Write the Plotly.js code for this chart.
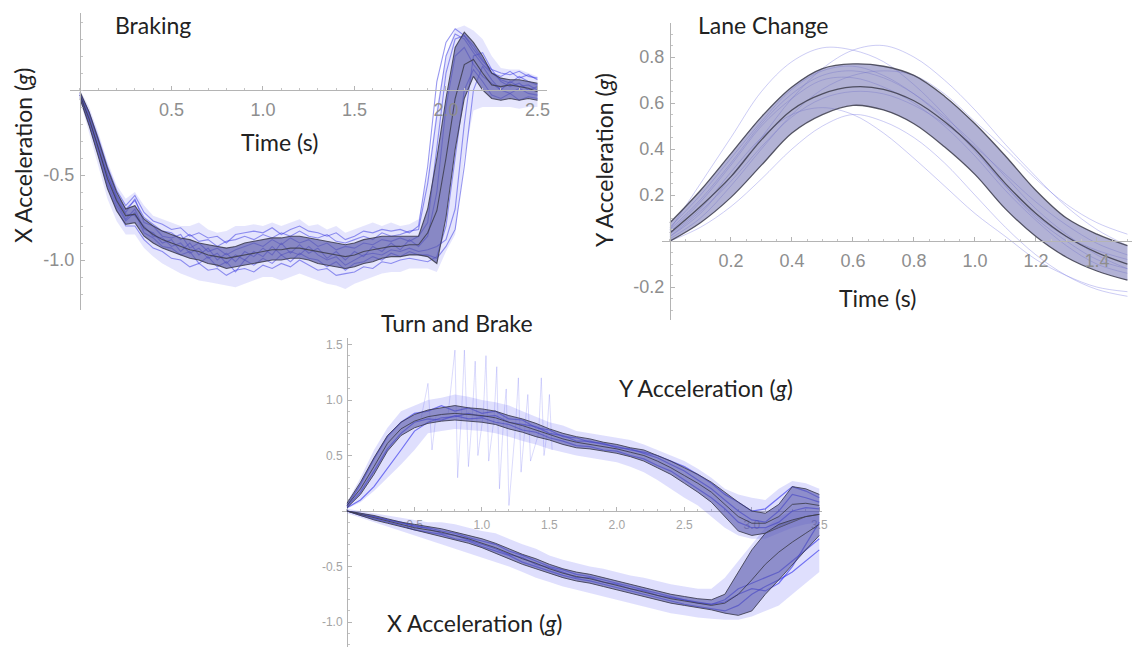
<!DOCTYPE html>
<html><head><meta charset="utf-8">
<script src="https://cdn.plot.ly/plotly-3.0.1.min.js"></script>
<style>html,body{margin:0;padding:0;background:#fff}#chart{width:1132px;height:647px}</style>
</head><body><div id="chart"></div>
<script>
// ---------------- Braking (panel 1) ----------------
const t1 = [0,0.05,0.1,0.15,0.2,0.25,0.3,0.35,0.4,0.45, 0.5,0.55,0.6,0.65,0.7,0.75,0.8,0.85,0.9,0.95,
  1,1.05,1.1,1.15,1.2,1.25,1.3,1.35,1.4,1.45, 1.5,1.55,1.6,1.65,1.7,1.75,1.8,1.85,1.9,1.95,
  2,2.05,2.1,2.15,2.2,2.25,2.3,2.35,2.4,2.45, 2.5];
const brakeMean = [-0.03,-0.17,-0.34,-0.52,-0.65,-0.74,-0.73,-0.81,-0.85,-0.88,
  -0.90,-0.92,-0.94,-0.95,-0.97,-0.98,-0.99,-0.98,-0.97,-0.96,
  -0.95,-0.94,-0.94,-0.93,-0.93,-0.94,-0.95,-0.96,-0.97,-0.98,
  -0.97,-0.95,-0.94,-0.93,-0.92,-0.92,-0.91,-0.91,-0.84,-0.71,
  -0.40,-0.05,0.15,0.18,0.10,0.03,0.02,0.03,0.02,0.01, -0.01];
const brakeUpper = [-0.01,-0.13,-0.29,-0.46,-0.60,-0.70,-0.68,-0.76,-0.80,-0.83,
  -0.85,-0.87,-0.88,-0.90,-0.91,-0.92,-0.93,-0.92,-0.90,-0.89,
  -0.88,-0.87,-0.87,-0.86,-0.86,-0.87,-0.88,-0.89,-0.90,-0.91,
  -0.90,-0.88,-0.87,-0.86,-0.86,-0.86,-0.86,-0.86,-0.70,-0.40,
  -0.05,0.25,0.34,0.28,0.20,0.10,0.07,0.06,0.06,0.05, 0.04];
const brakeLower = [-0.05,-0.21,-0.39,-0.58,-0.71,-0.79,-0.78,-0.86,-0.90,-0.93,
  -0.95,-0.97,-0.99,-1.00,-1.02,-1.03,-1.05,-1.04,-1.03,-1.02,
  -1.01,-1.00,-1.00,-0.99,-0.99,-1.00,-1.02,-1.03,-1.04,-1.05,
  -1.04,-1.02,-1.01,-0.99,-0.98,-0.98,-0.97,-0.97,-0.98,-1.02,
  -0.75,-0.35,-0.05,0.08,0.00,-0.05,-0.06,-0.05,-0.06,-0.05, -0.06];
const brakeCloudHi = [0.0,-0.10,-0.25,-0.42,-0.56,-0.64,-0.60,-0.68,-0.74,-0.76,
  -0.78,-0.80,-0.80,-0.78,-0.82,-0.84,-0.83,-0.80,-0.80,-0.79,
  -0.80,-0.78,-0.80,-0.78,-0.76,-0.80,-0.79,-0.82,-0.80,-0.84,
  -0.82,-0.80,-0.78,-0.80,-0.78,-0.80,-0.79,-0.76,-0.50,-0.10,
  0.20,0.36,0.38,0.35,0.30,0.20,0.13,0.12,0.12,0.10, 0.08];
const brakeCloudLo = [-0.06,-0.25,-0.45,-0.64,-0.77,-0.85,-0.85,-0.93,-0.98,-1.02,
  -1.05,-1.08,-1.10,-1.12,-1.13,-1.14,-1.15,-1.16,-1.14,-1.12,
  -1.10,-1.10,-1.12,-1.10,-1.08,-1.10,-1.12,-1.14,-1.15,-1.17,
  -1.14,-1.12,-1.10,-1.08,-1.07,-1.07,-1.05,-1.05,-1.05,-1.07,
  -0.95,-0.85,-0.40,-0.12,-0.10,-0.10,-0.10,-0.10,-0.11,-0.10, -0.10];
const brakeRunA = [-0.02,-0.14,-0.30,-0.47,-0.62,-0.70,-0.65,-0.75,-0.79,-0.83,
  -0.84,-0.88,-0.85,-0.89,-0.88,-0.92,-0.89,-0.88,-0.86,-0.88,
  -0.85,-0.87,-0.84,-0.86,-0.83,-0.86,-0.87,-0.85,-0.89,-0.90,
  -0.88,-0.86,-0.88,-0.84,-0.86,-0.85,-0.83,-0.82,-0.55,-0.15,
  0.20,0.33,0.30,0.22,0.15,0.10,0.08,0.11,0.07,0.09, 0.06];
const brakeRunB = [-0.04,-0.20,-0.38,-0.57,-0.70,-0.80,-0.80,-0.88,-0.93,-0.95,
  -0.99,-1.00,-1.04,-1.02,-1.06,-1.05,-1.09,-1.06,-1.05,-1.07,
  -1.03,-1.05,-1.02,-1.04,-1.00,-1.03,-1.06,-1.05,-1.09,-1.08,
  -1.07,-1.04,-1.05,-1.01,-1.02,-1.00,-0.99,-1.00,-1.01,-0.98,
  -0.80,-0.40,0.00,0.12,0.05,-0.03,-0.05,-0.02,-0.06,-0.04, -0.05];
const brakeRunC = [-0.03,-0.18,-0.33,-0.53,-0.66,-0.76,-0.70,-0.82,-0.84,-0.90,
  -0.88,-0.95,-0.90,-0.97,-0.93,-1.00,-0.96,-1.01,-0.95,-0.98,
  -0.93,-0.97,-0.90,-0.96,-0.91,-0.96,-0.93,-0.99,-0.95,-1.00,
  -0.95,-0.98,-0.92,-0.95,-0.90,-0.94,-0.88,-0.92,-0.86,-0.60,
  -0.10,0.20,0.25,0.15,0.08,0.04,0.00,0.05,0.02,0.03, 0.00];
const brakeRunD = [-0.03,-0.16,-0.35,-0.50,-0.64,-0.73,-0.74,-0.80,-0.86,-0.87,
  -0.92,-0.90,-0.96,-0.93,-0.99,-0.96,-1.02,-0.97,-1.00,-0.95,
  -0.98,-0.92,-0.97,-0.95,-0.97,-0.92,-0.97,-1.00,-0.98,-1.03,
  -1.00,-0.97,-0.96,-0.97,-0.94,-0.95,-0.93,-0.95,-0.94,-0.92,
  -0.88,-0.70,-0.20,0.20,0.22,0.12,0.05,0.02,0.04,0.00, 0.02];
const brakeRunE = [-0.02,-0.15,-0.31,-0.50,-0.63,-0.72,-0.64,-0.78,-0.80,-0.86,
  -0.87,-0.85,-0.93,-0.90,-0.95,-0.93,-0.97,-0.94,-0.92,-0.90,
  -0.92,-0.88,-0.91,-0.87,-0.90,-0.88,-0.92,-0.90,-0.94,-0.92,
  -0.93,-0.90,-0.91,-0.88,-0.89,-0.87,-0.89,-0.86,-0.78,-0.35,
  0.10,0.30,0.32,0.26,0.18,0.10,0.06,0.04,0.08,0.05, 0.03];
const brakeRunF = [-0.03,-0.19,-0.36,-0.55,-0.68,-0.77,-0.72,-0.84,-0.87,-0.92,
  -0.93,-0.97,-0.95,-1.02,-0.98,-1.04,-1.01,-1.07,-1.00,-1.03,
  -0.99,-1.02,-0.97,-1.01,-0.96,-0.99,-1.00,-1.04,-1.01,-1.06,
  -1.02,-1.01,-0.98,-1.00,-0.96,-0.98,-0.95,-0.97,-0.97,-0.99,
  -0.92,-0.82,-0.45,0.00,0.14,0.06,0.00,-0.02,0.01,-0.02, -0.03];
const brakeRunG = [-0.02,-0.13,-0.28,-0.45,-0.59,-0.68,-0.62,-0.72,-0.77,-0.79,
  -0.82,-0.81,-0.86,-0.84,-0.87,-0.86,-0.90,-0.85,-0.84,-0.83,
  -0.84,-0.81,-0.85,-0.82,-0.80,-0.83,-0.84,-0.86,-0.84,-0.88,
  -0.86,-0.83,-0.84,-0.82,-0.83,-0.82,-0.84,-0.80,-0.45,0.05,
  0.28,0.36,0.32,0.24,0.17,0.12,0.10,0.09,0.11,0.08, 0.07];

// ---------------- Lane Change (panel 2) ----------------
const t2 = [0,0.1,0.2,0.3,0.4,0.5,0.6,0.7,0.8,0.9,1.0,1.1,1.2,1.3,1.4,1.5];
const laneMean  = [0.035,0.15,0.28,0.44,0.57,0.64,0.67,0.66,0.61,0.52,0.40,0.25,0.12,0.02,-0.05,-0.10];
const laneUpper = [0.08,0.22,0.38,0.54,0.67,0.75,0.77,0.76,0.72,0.63,0.51,0.37,0.22,0.10,0.03,-0.02];
const laneLower = [0.0,0.08,0.19,0.33,0.47,0.55,0.59,0.57,0.51,0.41,0.29,0.14,0.02,-0.07,-0.13,-0.17];
const laneRun1 = [0.05,0.25,0.45,0.65,0.78,0.84,0.83,0.78,0.68,0.55,0.40,0.24,0.10,0.0,-0.08,-0.12];
const laneRun2 = [0.02,0.12,0.28,0.45,0.62,0.75,0.83,0.85,0.80,0.70,0.57,0.42,0.28,0.15,0.05,-0.02];
const laneRun3 = [0.0,0.06,0.15,0.27,0.40,0.50,0.55,0.52,0.45,0.34,0.20,0.06,-0.06,-0.15,-0.21,-0.24];
const laneRun4 = [0.03,0.14,0.30,0.45,0.55,0.58,0.55,0.47,0.36,0.24,0.12,0.02,-0.08,-0.15,-0.20,-0.22];
const laneRun5 = [0.01,0.10,0.24,0.40,0.55,0.66,0.72,0.74,0.72,0.64,0.52,0.40,0.27,0.16,0.08,0.03];
const laneRun6 = [0.04,0.17,0.33,0.50,0.62,0.70,0.71,0.67,0.60,0.50,0.37,0.22,0.09,-0.02,-0.10,-0.14];
const laneRun7 = [0.06,0.20,0.36,0.52,0.66,0.74,0.76,0.72,0.64,0.53,0.39,0.24,0.11,0.02,-0.04,-0.08];
const laneRun8 = [0.02,0.13,0.26,0.41,0.54,0.62,0.65,0.64,0.59,0.51,0.41,0.29,0.17,0.07,-0.01,-0.06];
const laneRun9 = [0.05,0.18,0.34,0.51,0.64,0.72,0.74,0.71,0.64,0.54,0.42,0.28,0.14,0.03,-0.06,-0.12];

// ---------------- Turn and Brake (panel 3) ----------------
const t3 = [0,0.1,0.2,0.3,0.4,0.5,0.6,0.7,0.8,0.9, 1.0,1.1,1.2,1.3,1.4,1.5,1.6,1.7,1.8,1.9,
  2.0,2.1,2.2,2.3,2.4,2.5,2.6,2.7,2.8,2.9, 3.0,3.1,3.2,3.3,3.4,3.5];
const turnYMean = [0.05,0.20,0.40,0.61,0.74,0.81,0.85,0.87,0.88,0.87,
  0.86,0.84,0.80,0.77,0.73,0.69,0.65,0.62,0.60,0.58,
  0.56,0.53,0.50,0.45,0.39,0.32,0.25,0.17,0.06,-0.05,
  -0.11,-0.11,-0.05,0.06,0.07,0.05];
const turnYUpper = [0.07,0.26,0.48,0.68,0.80,0.87,0.91,0.93,0.95,0.93,
  0.92,0.90,0.86,0.83,0.79,0.74,0.70,0.67,0.65,0.62,
  0.60,0.57,0.55,0.50,0.45,0.39,0.33,0.26,0.17,0.08,
  0.00,-0.02,0.06,0.22,0.20,0.15];
const turnYLower = [0.03,0.15,0.33,0.54,0.68,0.75,0.79,0.81,0.82,0.81,
  0.80,0.78,0.74,0.71,0.67,0.64,0.60,0.57,0.56,0.54,
  0.52,0.49,0.45,0.39,0.33,0.25,0.17,0.08,-0.05,-0.18,
  -0.22,-0.20,-0.15,-0.10,-0.05,-0.03];
const turnYCloudHi = [0.08,0.30,0.55,0.75,0.90,0.95,1.00,1.02,1.05,1.03,
  1.00,0.98,0.95,0.90,0.85,0.80,0.77,0.72,0.70,0.68,
  0.66,0.64,0.60,0.55,0.50,0.45,0.38,0.30,0.20,0.15,
  0.12,0.10,0.20,0.27,0.25,0.20];
const turnYCloudLo = [0.02,0.08,0.18,0.30,0.42,0.55,0.70,0.72,0.74,0.73,
  0.72,0.70,0.67,0.63,0.60,0.56,0.53,0.50,0.48,0.46,
  0.44,0.40,0.35,0.28,0.20,0.12,0.05,-0.05,-0.15,-0.22,
  -0.25,-0.25,-0.20,-0.15,-0.12,-0.10];
const turnYRunA = [0.05,0.24,0.47,0.67,0.80,0.88,0.90,0.95,0.90,0.93,
  0.88,0.90,0.83,0.82,0.75,0.73,0.67,0.66,0.62,0.61,
  0.57,0.56,0.52,0.48,0.42,0.36,0.28,0.20,0.10,0.00,
  -0.08,-0.10,0.00,0.15,0.12,0.08];
const turnYRunB = [0.04,0.17,0.36,0.56,0.70,0.80,0.83,0.82,0.86,0.83,
  0.84,0.80,0.78,0.73,0.71,0.66,0.63,0.59,0.58,0.55,
  0.54,0.50,0.47,0.41,0.36,0.28,0.20,0.12,0.02,-0.10,
  -0.15,-0.15,-0.10,0.00,0.03,0.02];
const turnYRunC = [0.03,0.10,0.22,0.38,0.55,0.72,0.80,0.84,0.85,0.88,
  0.85,0.86,0.80,0.78,0.76,0.70,0.68,0.63,0.63,0.60,
  0.58,0.55,0.53,0.50,0.45,0.40,0.33,0.25,0.15,0.08,
  0.00,0.02,0.12,0.22,0.18,0.12];
const turnYSpikeT = [0.55,0.6,0.63,0.66, 0.75,0.8,0.82,0.85,0.87,0.9, 0.93,0.95,0.97, 1.01,1.03,1.05,
  1.09,1.11,1.13, 1.16,1.18,1.2, 1.25,1.27,1.29, 1.32,1.34,1.36, 1.42,1.44,1.46, 1.48,1.5,1.52];
const turnYSpikeV = [0.84,1.15,0.55,0.86, 0.88,1.45,0.30,0.90,1.45,0.40, 0.88,1.35,0.50, 0.87,1.40,0.45,
  0.84,1.30,0.20, 0.82,1.10,0.05, 0.78,1.20,0.35, 0.74,1.05,0.45, 0.70,1.20,0.50, 0.68,1.05,0.55];

const turnXMean = [0.0,-0.03,-0.06,-0.09,-0.12,-0.15,-0.17,-0.19,-0.22,-0.25,
  -0.29,-0.33,-0.38,-0.43,-0.47,-0.52,-0.56,-0.59,-0.61,-0.64,
  -0.67,-0.70,-0.73,-0.76,-0.79,-0.81,-0.83,-0.85,-0.83,-0.75,
  -0.62,-0.48,-0.37,-0.28,-0.20,-0.12];
const turnXUpper = [0.0,-0.02,-0.04,-0.07,-0.10,-0.12,-0.14,-0.16,-0.19,-0.22,
  -0.25,-0.29,-0.34,-0.39,-0.43,-0.48,-0.52,-0.55,-0.57,-0.60,
  -0.63,-0.66,-0.69,-0.72,-0.75,-0.77,-0.79,-0.80,-0.75,-0.55,
  -0.35,-0.20,-0.12,-0.08,-0.05,-0.03];
const turnXLower = [0.0,-0.04,-0.08,-0.11,-0.14,-0.17,-0.20,-0.23,-0.26,-0.29,
  -0.33,-0.38,-0.43,-0.48,-0.52,-0.56,-0.60,-0.63,-0.65,-0.68,
  -0.71,-0.74,-0.77,-0.80,-0.83,-0.85,-0.87,-0.89,-0.92,-0.94,
  -0.90,-0.75,-0.62,-0.48,-0.35,-0.22];
const turnXCloudHi = [0.02,0.0,-0.02,-0.04,-0.06,-0.08,-0.10,-0.10,-0.12,-0.15,
  -0.18,-0.20,-0.25,-0.30,-0.34,-0.40,-0.44,-0.47,-0.50,-0.52,
  -0.55,-0.58,-0.60,-0.63,-0.66,-0.68,-0.70,-0.70,-0.60,-0.45,
  -0.30,-0.15,-0.05,0.0,0.0,0.0];
const turnXCloudLo = [-0.02,-0.06,-0.10,-0.14,-0.18,-0.22,-0.26,-0.30,-0.34,-0.38,
  -0.42,-0.46,-0.50,-0.55,-0.60,-0.64,-0.68,-0.71,-0.74,-0.77,
  -0.80,-0.83,-0.86,-0.89,-0.92,-0.94,-0.96,-0.97,-0.98,-0.98,
  -0.95,-0.90,-0.85,-0.75,-0.65,-0.55];
const turnXRunA = [0.0,-0.02,-0.05,-0.08,-0.10,-0.14,-0.15,-0.18,-0.20,-0.24,
  -0.27,-0.30,-0.36,-0.40,-0.45,-0.50,-0.53,-0.57,-0.59,-0.62,
  -0.65,-0.68,-0.71,-0.74,-0.77,-0.80,-0.82,-0.84,-0.80,-0.70,
  -0.65,-0.60,-0.55,-0.45,-0.35,-0.25];
const turnXRunB = [0.0,-0.04,-0.07,-0.10,-0.13,-0.17,-0.19,-0.21,-0.25,-0.27,
  -0.32,-0.36,-0.40,-0.46,-0.50,-0.54,-0.58,-0.61,-0.63,-0.66,
  -0.69,-0.72,-0.75,-0.78,-0.81,-0.84,-0.86,-0.88,-0.90,-0.85,
  -0.75,-0.68,-0.62,-0.55,-0.45,-0.35];
const turnXRunC = [0.0,-0.03,-0.05,-0.08,-0.11,-0.13,-0.16,-0.20,-0.22,-0.26,
  -0.30,-0.34,-0.39,-0.42,-0.48,-0.51,-0.55,-0.60,-0.60,-0.64,
  -0.66,-0.70,-0.72,-0.76,-0.78,-0.80,-0.83,-0.84,-0.82,-0.75,
  -0.70,-0.72,-0.65,-0.50,-0.30,-0.10];

// tick labels
const brakeXTicks = [0.5,1.0,1.5,2.0,2.5];
const brakeYTicks = [-0.5,-1.0];
const laneXTicks = [0.2,0.4,0.6,0.8,1.0,1.2,1.4];
const laneYTicks = [-0.2,0.2,0.4,0.6,0.8];
const turnXTicks = [0.5,1.0,1.5,2.0,2.5,3.0,3.5];
const turnYTicks = [-1.0,-0.5,0.5,1.0,1.5];

// ---------------- drawing ----------------
const W = 1132, H = 647;
const traces = [];
function band(x, lo, hi, xa, ya, fill, lineColor, lw, shape) {
  const s = shape || 'linear';
  traces.push({x:x, y:lo, xaxis:xa, yaxis:ya, mode:'lines', line:{color:lineColor, width:lw, shape:s}, hoverinfo:'skip'});
  traces.push({x:x, y:hi, xaxis:xa, yaxis:ya, mode:'lines', fill:'tonexty', fillcolor:fill, line:{color:lineColor, width:lw, shape:s}, hoverinfo:'skip'});
}
function line(x, y, xa, ya, color, w, shape) {
  traces.push({x:x, y:y, xaxis:xa, yaxis:ya, mode:'lines', line:{color:color, width:w, shape:shape||'linear'}, hoverinfo:'skip'});
}
const gray = 'rgba(60,60,75,0.85)';
const bandFill = 'rgba(110,110,140,0.40)';
const noLine = 'rgba(0,0,0,0)';

// panel 1
band(t1, brakeCloudLo, brakeCloudHi, 'x', 'y', 'rgba(95,95,240,0.16)', noLine, 0);
[brakeRunA, brakeRunB, brakeRunC, brakeRunD, brakeRunE, brakeRunF, brakeRunG].forEach(r => line(t1, r, 'x', 'y', 'rgba(50,50,225,0.5)', 1.1));
band(t1, brakeLower, brakeUpper, 'x', 'y', 'rgba(50,50,210,0.42)', noLine, 0);
band(t1, brakeLower, brakeUpper, 'x', 'y', bandFill, gray, 1.1);
line(t1, brakeMean, 'x', 'y', gray, 1.1);

// panel 2
[laneRun1, laneRun2, laneRun3, laneRun4, laneRun5, laneRun6, laneRun7, laneRun8, laneRun9].forEach(r => line(t2, r, 'x2', 'y2', 'rgba(120,120,225,0.38)', 1, 'spline'));
band(t2, laneLower, laneUpper, 'x2', 'y2', 'rgba(110,110,200,0.28)', noLine, 0, 'spline');
band(t2, laneLower, laneUpper, 'x2', 'y2', 'rgba(115,115,165,0.36)', gray, 1.3, 'spline');
line(t2, laneMean, 'x2', 'y2', gray, 1.3, 'spline');

// panel 3
band(t3, turnYCloudLo, turnYCloudHi, 'x3', 'y3', 'rgba(80,80,245,0.18)', noLine, 0);
band(t3, turnXCloudLo, turnXCloudHi, 'x3', 'y3', 'rgba(80,80,245,0.18)', noLine, 0);
line(turnYSpikeT, turnYSpikeV, 'x3', 'y3', 'rgba(70,70,240,0.28)', 0.7);
[turnYRunA, turnYRunB, turnYRunC, turnXRunA, turnXRunB, turnXRunC].forEach(r => line(t3, r, 'x3', 'y3', 'rgba(40,40,235,0.6)', 1.2));
band(t3, turnYLower, turnYUpper, 'x3', 'y3', 'rgba(40,40,230,0.32)', noLine, 0);
band(t3, turnXLower, turnXUpper, 'x3', 'y3', 'rgba(40,40,230,0.32)', noLine, 0);
band(t3, turnYLower, turnYUpper, 'x3', 'y3', bandFill, gray, 1.0);
line(t3, turnYMean, 'x3', 'y3', gray, 1.0);
band(t3, turnXLower, turnXUpper, 'x3', 'y3', bandFill, gray, 1.0);
line(t3, turnXMean, 'x3', 'y3', gray, 1.0);

// axes placement (pixel boxes -> paper domains, axes cross at the origin)
function makeAxes(px, py, xr, yr, xt, yt, fsize, fcolor, minorX, minorY, layer) {
  const xd = [px[0]/W, px[1]/W];
  const yd = [1 - py[1]/H, 1 - py[0]/H];
  const xpos = yd[0] + (0 - yr[0])/(yr[1]-yr[0])*(yd[1]-yd[0]);
  const ypos = xd[0] + (0 - xr[0])/(xr[1]-xr[0])*(xd[1]-xd[0]);
  const common = {showgrid:false, zeroline:false, showline:true, linecolor:'#b4b4b4', linewidth:1,
    ticks:'inside', ticklen:4, tickcolor:'#b4b4b4', tickwidth:1, anchor:'free', layer:layer,
    tickfont:{family:'Liberation Sans, Arial, sans-serif', size:fsize, color:fcolor}, fixedrange:true};
  const xa = Object.assign({}, common, {domain:xd, range:xr, position:xpos, tickmode:'array', tickvals:xt,
    ticktext:xt.map(v => v.toFixed(1)), ticklabelstandoff:3,
    minor:{tickmode:'linear', tick0:0, dtick:minorX, ticks:'inside', ticklen:2, tickcolor:'#c4c4c4'}});
  const ya = Object.assign({}, common, {domain:yd, range:yr, position:ypos, tickmode:'array', tickvals:yt,
    ticktext:yt.map(v => (v < 0 ? '-' : '') + Math.abs(v).toFixed(1)), ticklabelstandoff:2,
    minor:{tickmode:'linear', tick0:0, dtick:minorY, ticks:'inside', ticklen:2, tickcolor:'#c4c4c4'}});
  return [xa, ya];
}
const [xa1, ya1] = makeAxes([70,547], [13,310], [-0.0546, 2.552], [-1.294, 0.453], brakeXTicks, brakeYTicks, 18, '#8e8e8e', 0.1, 0.1, 'above traces');
const [xa2, ya2] = makeAxes([662,1132], [23,320], [-0.026, 1.515], [-0.343, 0.948], laneXTicks, laneYTicks, 18, '#8e8e8e', 0.05, 0.05, 'above traces');
const [xa3, ya3] = makeAxes([342,822], [338,647], [-0.037, 3.52], [-1.225, 1.559], turnXTicks, turnYTicks, 12, '#a4a4a4', 0.1, 0.1, 'below traces');

function P(px, py) { return {x: px/W, y: 1 - py/H}; }
const titleFont = {family:'Lato, Open Sans, sans-serif', size:23, color:'#222'};
function ann(text, px, py, opts) {
  const p = P(px, py);
  return Object.assign({text:text, x:p.x, y:p.y, xref:'paper', yref:'paper', showarrow:false,
    xanchor:'center', yanchor:'middle', font:titleFont}, opts||{});
}
const annotations = [
  ann('Braking', 153, 25),
  ann('Time (s)', 279, 142),
  ann('X Acceleration (<i>g</i>)', 23, 156, {textangle:-90}),
  ann('Lane Change', 763, 25),
  ann('Time (s)', 877, 298),
  ann('Y Acceleration (<i>g</i>)', 604, 160, {textangle:-90}),
  ann('Turn and Brake', 457, 323),
  ann('Y Acceleration (<i>g</i>)', 706, 388),
  ann('X Acceleration (<i>g</i>)', 474, 623)
];

const layout = {
  width: W, height: H, margin:{l:0, r:0, t:0, b:0}, paper_bgcolor:'#fff', plot_bgcolor:'rgba(0,0,0,0)',
  showlegend:false, hovermode:false,
  xaxis: xa1, yaxis: ya1, xaxis2: xa2, yaxis2: ya2, xaxis3: xa3, yaxis3: ya3,
  annotations: annotations
};
Plotly.newPlot('chart', traces, layout, {staticPlot:true, displayModeBar:false});
</script></body></html>
